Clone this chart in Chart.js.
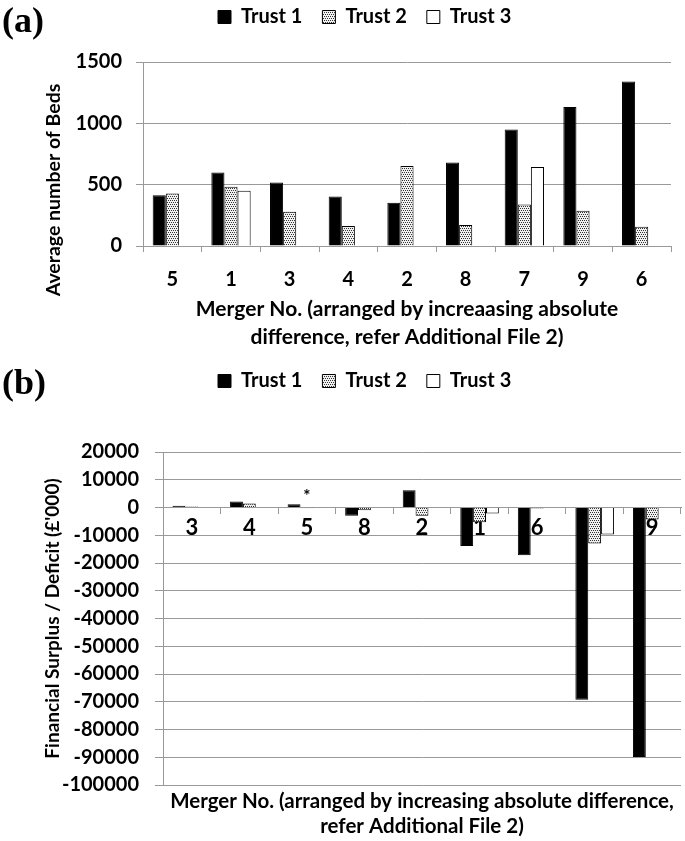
<!DOCTYPE html>
<html lang="en">
<head>
    <meta charset="UTF-8">
    <title>Merger beds and financial surplus / deficit</title>
    <script src="https://cdn.jsdelivr.net/npm/chart.js"></script>
    <style>
        body { margin: 0; width: 685px; height: 841px; position: relative; background: #fff; overflow: hidden; }
        canvas { position: absolute; left: 0; }
        .panel { position: absolute; left: 2px; font-family: "Liberation Serif", serif; font-weight: bold; font-size: 36px; line-height: 40px; }
    </style>
</head>
<body>
    <canvas id="bedsChart" width="685" height="355" style="top:0"></canvas>
    <canvas id="financeChart" width="685" height="481" style="top:360px"></canvas>
    <div class="panel" style="top:0px">(a)</div>
    <div class="panel" style="top:362px">(b)</div>

    <script>
        // series names shared by both panels
        const seriesNames = ['Trust 1', 'Trust 2', 'Trust 3'];

        // panel (a): average number of beds
        const bedMergers = ['5', '1', '3', '4', '2', '8', '7', '9', '6'];
        const bedsTrust1 = [414, 599, 518, 404, 352, 680, 949, 1133, 1341];
        const bedsTrust2 = [428, 482, 279, 163, 653, 171, 339, 287, 157];
        const bedsTrust3 = [null, 450, null, null, null, null, 645, null, null];
        const bedsMin = 0, bedsMax = 1500, bedsStep = 500;
        const bedsYTitle = 'Average number of Beds';
        const bedsXTitle = ['Merger No. (arranged by increaasing absolute', 'difference, refer Additional File 2)'];

        // panel (b): financial surplus / deficit (£'000)
        const financeMergers = ['3', '4', '5', '8', '2', '1', '6', '7', '9'];
        const financeTrust1 = [600, 2200, 1200, -3000, 6200, -13900, -17200, -69300, -89900];
        const financeTrust2 = [400, 1400, -300, -1000, -3000, -5300, -400, -13000, -4300];
        const financeTrust3 = [null, null, null, null, null, -2200, null, -9700, null];
        const financeMin = -100000, financeMax = 20000, financeStep = 10000;
        const financeYTitle = "Financial Surplus / Deficit (£'000)";
        const financeXTitle = ['Merger No. (arranged by increasing absolute difference,', 'refer Additional File 2)'];
        const noteMerger = '5';   // merger marked with an asterisk
        const noteValue = 4000;

        const gridGray = '#999999';

        Chart.defaults.font.family = 'Lato, "Open Sans", sans-serif';
        Chart.defaults.font.weight = 'bold';
        Chart.defaults.font.size = 20;
        Chart.defaults.color = '#000';

        // dotted fill for Trust 2
        function dotPattern() {
            const c = document.createElement('canvas');
            c.width = 4; c.height = 4;
            const g = c.getContext('2d');
            g.fillStyle = '#f0f0f0';
            g.fillRect(0, 0, 4, 4);
            g.fillStyle = '#333';
            [[0, 0], [2, 0], [1, 2], [3, 2]].forEach(p => g.fillRect(p[0], p[1], 1, 1));
            return g.createPattern(c, 'repeat');
        }
        const fills = ['#000', dotPattern(), '#fff'];

        function makeDatasets(series) {
            return series.map((values, i) => ({
                label: seriesNames[i],
                data: values,
                backgroundColor: fills[i],
                borderColor: '#000',
                borderWidth: 1,
                barPercentage: 1,
                categoryPercentage: 0.67
            }));
        }

        // plain numbers, no thousands separator
        const plain = v => String(v);

        // move the legend row so that it starts at (x, y)
        function legendAt(x, y) {
            return {
                id: 'legendAt',
                afterLayout(chart) {
                    const lg = chart.legend;
                    const pad = lg.options.labels.padding;
                    const dx = x - (lg.left + pad);
                    const dy = y - (lg.top + pad);
                    lg.left += dx; lg.right += dx;
                    lg.top += dy; lg.bottom += dy;
                }
            };
        }

        const legendOpts = {
            align: 'start',
            labels: { boxWidth: 13, boxHeight: 13, padding: 20, font: { size: 20 } }
        };

        // y title of panel (a) sits lower than the plot centre
        const bedsSideTitle = {
            id: 'bedsSideTitle',
            afterDraw(chart) {
                const ctx = chart.ctx;
                ctx.save();
                ctx.translate(54, 190);
                ctx.rotate(-Math.PI / 2);
                ctx.font = 'bold 19.5px Lato';
                ctx.fillStyle = '#000';
                ctx.textAlign = 'center';
                ctx.textBaseline = 'middle';
                ctx.fillText(bedsYTitle, 0, 0);
                ctx.restore();
            }
        };

        const noteMark = {
            id: 'noteMark',
            afterDatasetsDraw(chart) {
                const ctx = chart.ctx;
                const x = chart.scales.x.getPixelForValue(financeMergers.indexOf(noteMerger));
                const y = chart.scales.y.getPixelForValue(noteValue);
                ctx.save();
                ctx.font = 'bold 17px Lato';
                ctx.fillStyle = '#000';
                ctx.textAlign = 'center';
                ctx.textBaseline = 'middle';
                ctx.fillText('*', x, y);
                ctx.restore();
            }
        };

        new Chart(document.getElementById('bedsChart'), {
            type: 'bar',
            data: {
                labels: bedMergers,
                datasets: makeDatasets([bedsTrust1, bedsTrust2, bedsTrust3])
            },
            options: {
                responsive: false,
                animation: false,
                layout: { padding: { top: 12, right: 14, left: 0, bottom: 0 } },
                plugins: { legend: legendOpts, tooltip: { enabled: false } },
                scales: {
                    x: {
                        grid: { drawOnChartArea: false, tickLength: 6, color: gridGray, offset: true },
                        border: { color: gridGray },
                        ticks: { padding: 16, maxRotation: 0, autoSkip: false },
                        title: {
                            display: true, text: bedsXTitle,
                            font: { size: 21, lineHeight: '28px' },
                            padding: { top: 0, bottom: 4 }
                        },
                        afterFit: s => { s.height = 109; }
                    },
                    y: {
                        min: bedsMin, max: bedsMax,
                        ticks: { stepSize: bedsStep, padding: 14, autoSkip: false, callback: plain },
                        grid: { color: gridGray, tickLength: 7 },
                        border: { color: gridGray },
                        afterFit: s => { s.width = 143; }
                    }
                }
            },
            plugins: [legendAt(218, 7), bedsSideTitle]
        });

        new Chart(document.getElementById('financeChart'), {
            type: 'bar',
            data: {
                labels: financeMergers,
                datasets: makeDatasets([financeTrust1, financeTrust2, financeTrust3])
            },
            options: {
                responsive: false,
                animation: false,
                layout: { padding: { top: 42, right: 4, left: 0, bottom: 0 } },
                plugins: {
                    legend: legendOpts,
                    tooltip: { enabled: false },
                    title: {
                        display: true, position: 'bottom', fullSize: false,
                        text: financeXTitle,
                        font: { size: 20.5, lineHeight: '25px' },
                        padding: { top: 4, bottom: 2 }
                    }
                },
                scales: {
                    x: {
                        position: { y: 0 },
                        grid: { drawOnChartArea: false, tickLength: 6, color: gridGray, offset: true },
                        border: { color: gridGray },
                        ticks: { padding: 1, maxRotation: 0, autoSkip: false, font: { size: 22 } },
                        afterFit: s => { s.height = 0; }
                    },
                    y: {
                        min: financeMin, max: financeMax,
                        ticks: { stepSize: financeStep, padding: 16, autoSkip: false, callback: plain },
                        grid: { color: gridGray, tickLength: 8 },
                        border: { color: gridGray },
                        title: { display: true, text: financeYTitle, font: { size: 19 }, padding: { top: 41, bottom: 0 } },
                        afterFit: s => { s.width = 163; }
                    }
                }
            },
            plugins: [legendAt(218, 11), noteMark]
        });
    </script>
</body>
</html>
